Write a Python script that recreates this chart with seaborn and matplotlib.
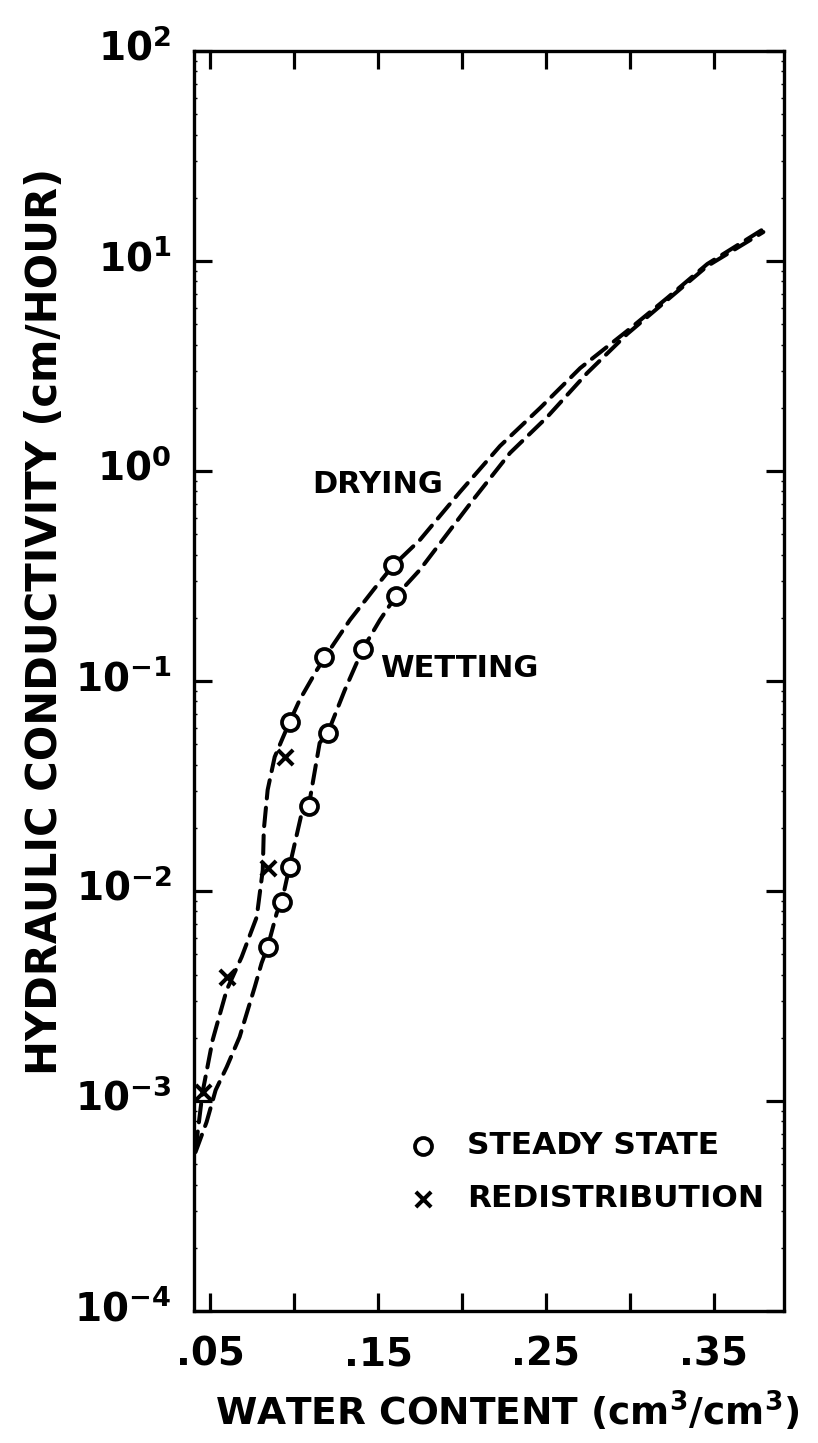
import numpy as np
import pandas as pd
import matplotlib
matplotlib.use("Agg")
import matplotlib.pyplot as plt
import matplotlib.transforms as mtransforms
import seaborn as sns

# ---------------- data ----------------
# Drying curve (dashed), water content vs hydraulic conductivity (cm/hour)
drying_theta = [0.0412, 0.0454, 0.0514, 0.0556, 0.0598, 0.0687, 0.0777, 0.0813,
                0.0819, 0.0842, 0.0884, 0.0932, 0.0973, 0.1033, 0.1135, 0.1212,
                0.1332, 0.1481, 0.1588, 0.1749, 0.1988, 0.2227, 0.2466, 0.2705,
                0.2985, 0.3224, 0.3463, 0.3797]
drying_k = [5.85e-4, 1.10e-3, 1.95e-3, 2.57e-3, 3.38e-3, 4.85e-3, 7.52e-3, 0.0126,
            0.0195, 0.0303, 0.0435, 0.0536, 0.0638, 0.0813, 0.1127, 0.1406,
            0.195, 0.277, 0.353, 0.469, 0.794, 1.315, 1.995, 3.09,
            4.645, 6.67, 9.68, 14.19]

# Wetting curve (dashed)
wetting_theta = [0.0412, 0.0478, 0.0532, 0.0598, 0.0675, 0.0765, 0.0806, 0.0842,
                 0.0896, 0.0926, 0.0973, 0.1045, 0.1087, 0.1152, 0.1200, 0.1302,
                 0.1409, 0.1511, 0.1607, 0.1749, 0.2066, 0.2287, 0.2508, 0.2747,
                 0.2985, 0.3224, 0.3463, 0.3797]
wetting_k = [5.71e-4, 7.94e-4, 1.127e-3, 1.452e-3, 2.02e-3, 3.49e-3, 4.54e-3, 5.41e-3,
             7.85e-3, 8.87e-3, 0.01315, 0.0235, 0.0254, 0.0507, 0.0565, 0.0906,
             0.1419, 0.195, 0.254, 0.338, 0.728, 1.219, 1.807, 2.93,
             4.49, 6.52, 9.46, 13.74]

# Measured points
steady_drying_theta = [0.1588, 0.1176, 0.0973]
steady_drying_k = [0.356, 0.130, 0.0638]
steady_wetting_theta = [0.1606, 0.1410, 0.1201, 0.1087, 0.0973, 0.0926, 0.0842]
steady_wetting_k = [0.254, 0.142, 0.0565, 0.0254, 0.0130, 0.00887, 0.0054]
redis_theta = [0.0944, 0.0842, 0.0597, 0.0454]
redis_k = [0.0435, 0.0129, 0.00389, 0.0011]

x_ticks = [0.05, 0.10, 0.15, 0.20, 0.25, 0.30, 0.35]
x_ticklabels = [".05", "", ".15", "", ".25", "", ".35"]
y_exponents = [-4, -3, -2, -1, 0, 1, 2]

# ---------------- figure ----------------
sns.set_style("ticks")
plt.rcParams["font.family"] = ["DejaVu Sans"]
plt.rcParams["font.weight"] = "bold"
plt.rcParams["mathtext.fontset"] = "dejavusans"
plt.rcParams["text.color"] = "black"
plt.rcParams["axes.labelcolor"] = "black"
plt.rcParams["xtick.color"] = "black"
plt.rcParams["ytick.color"] = "black"

W, H = 818, 1443
fig = plt.figure(figsize=(W / 100, H / 100), dpi=100)
ax = fig.add_axes([193.5 / W, 1 - 1311 / H, (784 - 193.5) / W, (1311 - 51) / H])

line_kw = dict(color="black", linewidth=2.9, sort=False, estimator=None,
               linestyle=(0, (4.6, 2.3)), dash_capstyle="round", ax=ax)
sns.lineplot(x=drying_theta, y=drying_k, **line_kw)
sns.lineplot(x=wetting_theta, y=wetting_k, **line_kw)

ss_theta = steady_drying_theta + steady_wetting_theta
ss_k = steady_drying_k + steady_wetting_k
sns.scatterplot(x=ss_theta, y=ss_k, marker="o", s=150, facecolor="white",
                edgecolor="black", linewidth=2.7, zorder=5, ax=ax,
                label="STEADY STATE")
sns.scatterplot(x=redis_theta, y=redis_k, marker="x", s=120, color="black",
                linewidth=2.9, zorder=5, ax=ax, label="REDISTRIBUTION")

ax.set_yscale("log")
ax.set_xlim(0.040, 0.392)
ax.set_ylim(1e-4, 1e2)

ax.set_xticks(x_ticks)
ax.set_xticklabels(x_ticklabels, fontweight="bold")
ax.set_yticks([10.0 ** e for e in y_exponents])
ax.set_yticklabels([r"$\mathbf{10^{%d}}$" % e for e in y_exponents])
ax.yaxis.set_minor_locator(matplotlib.ticker.LogLocator(base=10, subs=np.arange(2, 10)))
ax.yaxis.set_minor_formatter(matplotlib.ticker.NullFormatter())

ax.tick_params(which="major", direction="in", length=13, width=2.3,
               top=True, right=True, labelsize=28, pad=16, color="black")
ax.tick_params(axis="x", which="major", pad=18)
ax.tick_params(which="minor", direction="in", length=2.5, width=1,
               left=True, right=True, top=False, bottom=False)
offset = mtransforms.ScaledTranslation(0, 0.06, fig.dpi_scale_trans)
for lab in ax.get_yticklabels():
    lab.set_transform(lab.get_transform() + offset)
for sp in ax.spines.values():
    sp.set_linewidth(2.4)
    sp.set_color("black")

ax.set_xlabel("")
ax.set_ylabel("")
fig.text(507 / W, 1 - 1412 / H, r"WATER CONTENT (cm$^{\mathbf{3}}$/cm$^{\mathbf{3}}$)",
         ha="center", va="center", fontsize=27, fontweight="bold")
fig.text(45 / W, 1 - 621 / H, "HYDRAULIC CONDUCTIVITY (cm/HOUR)",
         ha="center", va="center", rotation=90, fontsize=30, fontweight="bold")

ax.text(0.1107, 0.867, "DRYING", ha="left", va="center", fontsize=22,
        fontweight="bold")
ax.text(0.151, 0.115, "WETTING", ha="left", va="center", fontsize=22,
        fontweight="bold")

leg = ax.legend(loc="upper left", bbox_to_anchor=(0.366, 0.143), frameon=False,
                handlelength=0.85, handletextpad=1.0,
                labelspacing=0.78, borderaxespad=0, borderpad=0,
                prop={"size": 22.5, "weight": "bold"})

fig.savefig("out.png", dpi=100)
